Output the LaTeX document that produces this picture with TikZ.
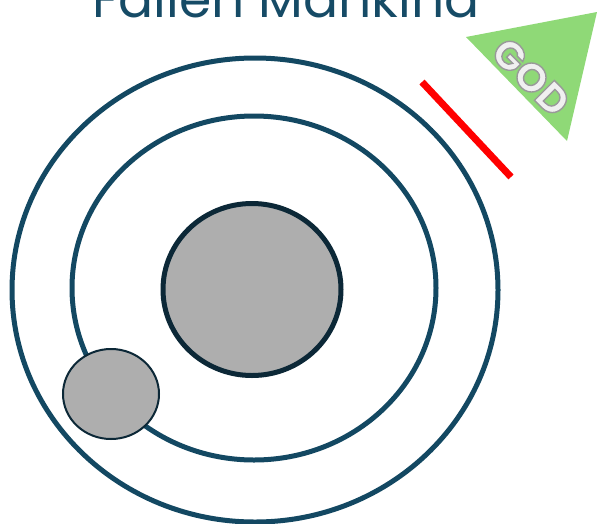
\documentclass[tikz,border=0pt]{standalone}
\usepackage{fontspec}
\setmainfont{Poppins}
\newfontfamily\godfont{Poppins}
\definecolor{ringblue}{HTML}{134862}
\definecolor{darkedge}{HTML}{0C2837}
\definecolor{ballgray}{HTML}{AEAEAE}
\definecolor{godgreen}{HTML}{8FD977}
\definecolor{titleblue}{HTML}{164B66}
\newcommand{\outlinedtext}[1]{\special{pdf:literal direct 0.6 G 2 Tr 1.4 w}#1\special{pdf:literal direct 0 Tr 0 G}}
\tikzset{
  ring/.style={draw=ringblue, line width=5pt},
  ball/.style={fill=ballgray, draw=darkedge},
}
\begin{document}
\begin{tikzpicture}[x=1pt,y=-1pt]
\useasboundingbox (0,0) rectangle (597,523);
\clip (0,0) rectangle (597,523);
% title
\node[anchor=base, text=titleblue, font=\fontsize{52}{52}\selectfont] (title) at (286,17) {Fallen Mankind};
% rings
\draw[ring] (255,290) ellipse [x radius=243, y radius=232];
\draw[ring] (254,288) ellipse [x radius=182, y radius=172];
% centre ball
\draw[ball, line width=5pt] (252,289.5) ellipse [x radius=89, y radius=86];
% small ball
\draw[ball, line width=2pt] (111,394) ellipse [x radius=48, y radius=45];
% red barrier
\coordinate (r1) at (422,82);
\coordinate (r2) at (511,177);
\draw[red, line width=7pt] (r1) -- (r2);
% god triangle
\fill[godgreen] (466,37) -- (597,12) -- (567,141) -- cycle;
\node[rotate=-45, text=white!88!gray, font=\godfont\bfseries\fontsize{40}{40}\selectfont] (god) at (531,77) {\outlinedtext{GOD}};
\end{tikzpicture}
\end{document}
